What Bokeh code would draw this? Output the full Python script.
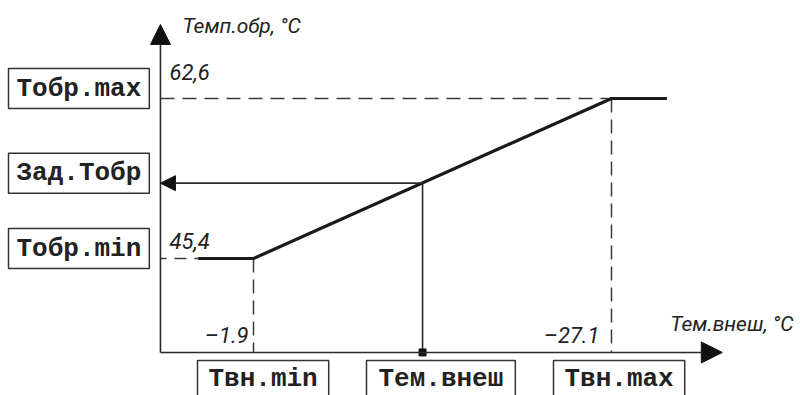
from bokeh.plotting import figure
from bokeh.models import Range1d, Label, Arrow, NormalHead
from bokeh.embed import file_html
from bokeh.resources import INLINE

# ---- data ----
# outside temperature (x, reversed: colder to the right) and return temperature (y)
curve_t_out = [2.0, -1.9, -27.1, -31.0]
curve_t_ret = [45.4, 45.4, 62.6, 62.6]

t_out_min, t_out_max = -1.9, -27.1
t_ret_min, t_ret_max = 45.4, 62.6

# current outside temperature and resulting setpoint
setpoint_t_out = -13.8
setpoint_t_ret = 53.5

# axis origin and axis ends (data units)
x_origin, y_origin = 4.65, 35.3
x_axis_end, y_axis_end = -34.9, 70.56

y_tick_values = [t_ret_max, t_ret_min]
y_tick_labels = ["62,6", "45,4"]
x_tick_values = [t_out_min, t_out_max]
x_tick_labels = ["–1.9", "–27.1"]

left_box_labels = ["Тобр.max", "Зад.Тобр", "Тобр.min"]
left_box_levels = [t_ret_max, setpoint_t_ret, t_ret_min]
bottom_box_labels = ["Твн.min", "Тем.внеш", "Твн.max"]

y_title = "Темп.обр, °C"
x_title = "Тем.внеш, °C"

# ---- figure ----
W, H = 800, 395
p = figure(width=W, height=H, output_backend="svg", toolbar_location=None,
           x_range=Range1d(15.91, -40.405), y_range=Range1d(30.672, 73.136),
           x_axis_type=None, y_axis_type=None, min_border=0)
p.grid.visible = False
p.outline_line_color = None
p.background_fill_color = "white"
p.border_fill_color = "white"

AX = "#2a2a2a"
DASH = "#3a3a3a"
ITAL = "Roboto"
MONO = "Liberation Mono"
ISZ = "22px"
TSZ = "21px"

# axes with arrow heads
p.add_layout(Arrow(x_start=x_origin, y_start=y_origin, x_end=x_origin, y_end=y_axis_end,
                   line_color=AX, line_width=1.6,
                   end=NormalHead(size=20, fill_color="#111111", line_color="#111111", line_width=1)))
p.add_layout(Arrow(x_start=x_origin, y_start=y_origin, x_end=x_axis_end, y_end=y_origin,
                   line_color=AX, line_width=1.6,
                   end=NormalHead(size=21, fill_color="#111111", line_color="#111111", line_width=1)))

# dashed guide lines
p.line([x_origin, t_out_max], [t_ret_max, t_ret_max], line_color=DASH, line_width=1.5, line_dash="14 8")
p.line([x_origin, curve_t_out[0]], [t_ret_min, t_ret_min], line_color=DASH, line_width=1.5, line_dash="6 8 12 8")
p.line([t_out_min, t_out_min], [t_ret_min, y_origin], line_color=DASH, line_width=1.5, line_dash="14 7")
p.line([t_out_max, t_out_max], [t_ret_max, y_origin], line_color=DASH, line_width=1.5, line_dash="14 7")

# setpoint construction
p.line([setpoint_t_out, setpoint_t_out], [setpoint_t_ret, y_origin], line_color=AX, line_width=1.6)
p.add_layout(Arrow(x_start=setpoint_t_out, y_start=setpoint_t_ret, x_end=x_origin, y_end=setpoint_t_ret,
                   line_color=AX, line_width=1.6,
                   end=NormalHead(size=15, fill_color="#111111", line_color="#111111", line_width=1)))
p.scatter([setpoint_t_out], [y_origin], marker="square", size=7, color="#111111")

# heating curve
p.line(curve_t_out, curve_t_ret, line_color="#1a1a1a", line_width=3.2)

# tick value labels
for v, t in zip(y_tick_values, y_tick_labels):
    p.add_layout(Label(x=x_origin, y=v, text=t, x_offset=9, y_offset=27 if v == t_ret_max else 18,
                       text_font=ITAL, text_font_style="italic", text_font_size=ISZ,
                       text_color="#222222", text_align="left", text_baseline="alphabetic"))
for v, t, off in zip(x_tick_values, x_tick_labels, [-5, -12]):
    p.add_layout(Label(x=v, y=y_origin, text=t, x_offset=off, y_offset=17,
                       text_font=ITAL, text_font_style="italic", text_font_size=ISZ,
                       text_color="#222222", text_align="right", text_baseline="alphabetic"))

# axis titles
p.add_layout(Label(x=x_origin, y=y_axis_end, text=y_title, x_offset=22, y_offset=-2,
                   text_font=ITAL, text_font_style="italic", text_font_size=TSZ,
                   text_color="#222222", text_align="left", text_baseline="alphabetic"))
p.add_layout(Label(x=x_axis_end, y=y_origin, text=x_title, x_offset=-52, y_offset=28,
                   text_font=ITAL, text_font_style="italic", text_font_size=TSZ,
                   text_color="#222222", text_align="left", text_baseline="alphabetic"))

# boxed labels on the left (screen x, data y)
for t, lv in zip(left_box_labels, left_box_levels):
    p.add_layout(Label(x=8, x_units="screen", y=lv, y_offset=10, text=t,
                       text_font=MONO, text_font_style="bold", text_font_size="26px",
                       text_color="#222222", text_align="left", text_baseline="middle",
                       padding=dict(left=8, right=8, top=5, bottom=5),
                       border_line_color="#333333", border_line_width=1.5,
                       background_fill_color="white"))

# boxed labels below the x axis
bottom_left_px = [197, 366, 553]
bottom_pad = [11, 12, 11]
for t, xp, pd in zip(bottom_box_labels, bottom_left_px, bottom_pad):
    p.add_layout(Label(x=xp, x_units="screen", y=y_origin, y_offset=-8, text=t,
                       text_font=MONO, text_font_style="bold", text_font_size="26px",
                       text_color="#222222", text_align="left", text_baseline="top",
                       padding=dict(left=pd, right=pd, top=4, bottom=8),
                       border_line_color="#333333", border_line_width=1.5,
                       background_fill_color="white"))

open("out.html", "w").write(file_html(p, INLINE))
